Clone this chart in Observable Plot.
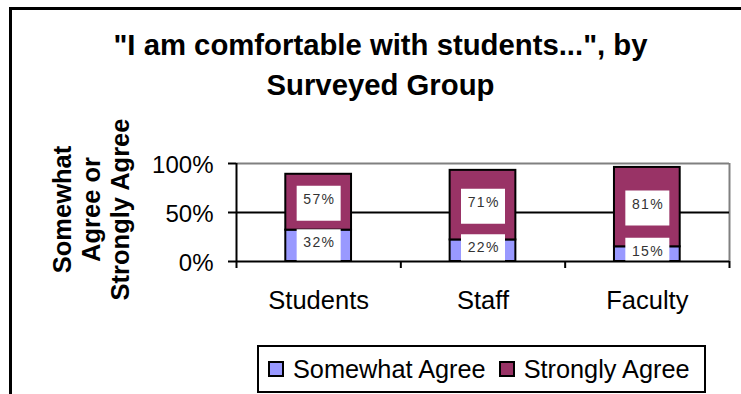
<!DOCTYPE html>
<html>
<head>
<meta charset="utf-8">
<script src="https://cdn.jsdelivr.net/npm/d3@7"></script>
<script src="https://cdn.jsdelivr.net/npm/@observablehq/plot@0.6"></script>
<style>
  body { margin: 0; background: #fff; }
  #chart { position: relative; width: 741px; height: 394px; overflow: hidden; background: #fff;
           font-family: "Liberation Sans", Arial, sans-serif; color: #000; }
  #chart svg { position: absolute; left: 0; top: 0; }
  #frame { position: absolute; left: 9px; top: 7px; width: 900px; height: 600px;
           border: 3px solid #000; box-sizing: border-box; }
  #title { position: absolute; left: 0; top: 25px; width: 761px; text-align: center;
           font-weight: bold; font-size: 29.3px; line-height: 40px; white-space: nowrap; }
  #ytitle { position: absolute; left: -29px; top: 166px; width: 240px; height: 87px;
            transform: rotate(-90deg); text-align: center; font-weight: bold;
            font-size: 25.5px; line-height: 29px; white-space: nowrap; }
  #legend { position: absolute; left: 257px; top: 345px; width: 449px; height: 48px;
            border: 2px solid #000; box-sizing: border-box; background: #fff;
            display: flex; align-items: center; padding-left: 9px; font-size: 25.3px; white-space: nowrap; }
  #legend .sw { width: 16px; height: 16px; border: 2px solid #000; box-sizing: border-box; margin-right: 9px; flex: none; }
  #legend .lab { margin-right: 13px; }
</style>
</head>
<body>
<div id="chart"></div>
<script>
const categories = ["Students", "Staff", "Faculty"];
const series = ["Somewhat Agree", "Strongly Agree"];
const somewhatAgree = [0.32, 0.22, 0.15];
const stronglyAgree = [0.57, 0.71, 0.81];
const yTicks = [0, 0.5, 1];
const seriesColors = ["#9999FF", "#993366"];
const titleLines = ["\"I am comfortable with students...\", by", "Surveyed Group"];
const yTitleLines = ["Somewhat", "Agree or", "Strongly Agree"];

// build stacked rows from the arrays
const rows = [];
categories.forEach((cat, i) => {
  const s = somewhatAgree[i], t = stronglyAgree[i];
  rows.push({cat, i, series: series[0], value: s, y1: 0, y2: s});
  rows.push({cat, i, series: series[1], value: t, y1: s, y2: s + t});
});
const catIndex = categories.map((c, i) => ({cat: c, i}));
const boundaries = d3.range(categories.length + 1);

const boxSymbol = { draw(ctx) { ctx.rect(-22, -16.5, 44, 35); } };
const mid = d => (d.y1 + d.y2) / 2;
const xc = d => d.i + 0.5;

const plot = Plot.plot({
  width: 741,
  height: 394,
  marginLeft: 236,
  marginRight: 12,
  marginTop: 163,
  marginBottom: 133,
  style: { fontFamily: "Liberation Sans, Arial, sans-serif", background: "transparent", overflow: "visible", color: "#000" },
  x: { type: "linear", domain: [0, categories.length] },
  y: { domain: [0, 1] },
  color: { domain: series, range: seriesColors },
  marks: [
    Plot.ruleY([1], { stroke: "#808080", strokeWidth: 2 }),
    Plot.ruleX([categories.length], { stroke: "#808080", strokeWidth: 2 }),
    Plot.ruleY([0.5], { stroke: "#000", strokeWidth: 2 }),
    Plot.rect(rows, { x1: d => d.i + 0.3, x2: d => d.i + 0.7, y1: "y1", y2: "y2",
                      fill: "series", stroke: "#000", strokeWidth: 2 }),
    Plot.dot(rows, { x: xc, y: mid, symbol: boxSymbol, fill: "white", stroke: "none", r: 10 }),
    Plot.text(rows, { x: xc, y: mid, text: d => Math.round(d.value * 100) + "%", fontSize: 14,
                      fill: "#333", dy: -3 }),
    Plot.ruleY([0], { stroke: "#000", strokeWidth: 2 }),
    Plot.ruleX([0], { stroke: "#000", strokeWidth: 2 }),
    Plot.axisY({ ticks: yTicks, tickFormat: () => "", tickSize: 8, strokeWidth: 2, label: null }),
    Plot.text(yTicks, { x: 0, y: d => d, text: d => Math.round(d * 100) + "%", textAnchor: "end",
                        dx: -23, dy: 2, fontSize: 24, fill: "#000" }),
    Plot.axisX({ ticks: boundaries, tickFormat: () => "", tickSize: 7, strokeWidth: 2, label: null }),
    Plot.text(catIndex, { x: xc, y: () => 0, text: "cat", dy: 39, fontSize: 25.5, fill: "#000" })
  ]
});

// letter-spacing for the small data labels (the text group drawn at 14px)
d3.select(plot).selectAll("g").filter(function() { return this.getAttribute("font-size") === "14"; })
  .selectAll("text").style("letter-spacing", "1.3px").attr("dx", 0.65);

const chart = document.getElementById("chart");
chart.appendChild(plot);

const frame = document.createElement("div");
frame.id = "frame";
chart.appendChild(frame);

const title = document.createElement("div");
title.id = "title";
title.innerHTML = titleLines.map(s => s.replace(/&/g, "&amp;").replace(/</g, "&lt;")).join("<br>");
chart.appendChild(title);

const ytitle = document.createElement("div");
ytitle.id = "ytitle";
ytitle.innerHTML = yTitleLines.join("<br>");
chart.appendChild(ytitle);

const legend = document.createElement("div");
legend.id = "legend";
series.forEach((s, k) => {
  const sw = document.createElement("span");
  sw.className = "sw";
  sw.style.background = seriesColors[k];
  const lab = document.createElement("span");
  lab.className = "lab";
  lab.textContent = s;
  legend.appendChild(sw);
  legend.appendChild(lab);
});
chart.appendChild(legend);
</script>
</body>
</html>
